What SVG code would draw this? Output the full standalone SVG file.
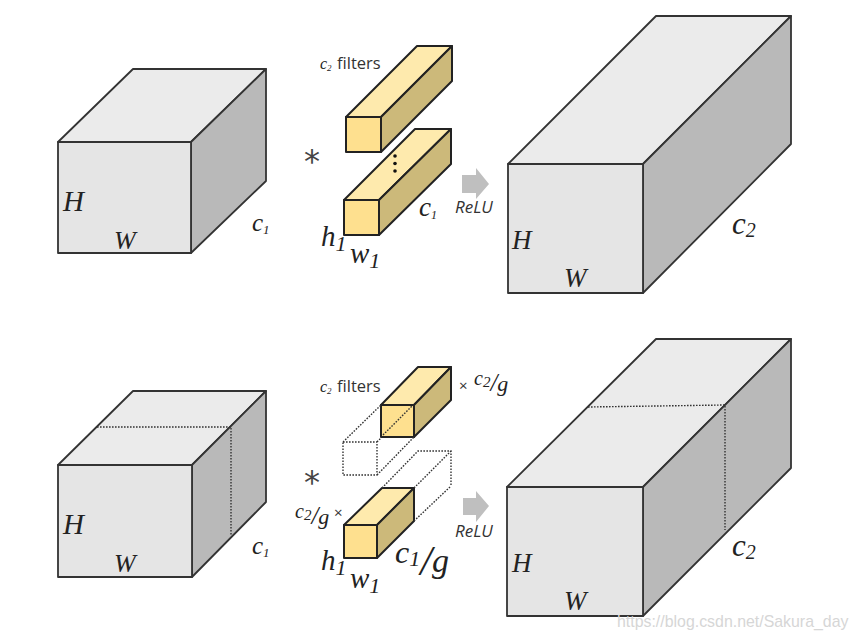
<svg xmlns="http://www.w3.org/2000/svg" width="857" height="639" viewBox="0 0 857 639">
<style>
.e{stroke:#333;stroke-width:1.8;stroke-linejoin:round}
.f{fill:#e5e5e5}.t{fill:#ebebeb}.s{fill:#b9b9b9}
.yf{fill:#fee08f}.yt{fill:#feeaad}.ys{fill:#ccb97a}
.y{stroke:#222;stroke-width:2;stroke-linejoin:round}
.d{fill:none;stroke:#333;stroke-width:1.4;stroke-dasharray:1.6 1.4}
.m{font-family:"Liberation Serif",serif;font-style:italic;fill:#222}
.n{font-family:"Open Sans","Liberation Sans",sans-serif;fill:#333}
.st{font-family:"DejaVu Sans",sans-serif;fill:#444;font-size:32px}
.a{fill:#bfbfbf}
</style>
<rect width="857" height="639" fill="#fff"/>
<g id="input-top">
<polygon class="t e" points="58,142 133,69 266,69 191,142"/>
<polygon class="s e" points="191,142 266,69 266,181 191,253"/>
<rect class="f e" x="58" y="142" width="133" height="111"/>
<text class="m" x="63" y="211" font-size="29">H</text>
<text class="m" x="114" y="249" font-size="26">W</text>
<text class="m" x="252" y="231" font-size="25">c<tspan font-size="13" dy="3">1</tspan></text>
</g>
<g id="filters-top">
<polygon class="yt y" points="346,117 417,46 452,46 381,117"/>
<polygon class="ys y" points="381,117 452,46 452,81 381,152"/>
<rect class="yf y" x="346" y="117" width="35" height="35"/>
<polygon class="yt y" points="344,200 415,129 451,129 379,200"/>
<polygon class="ys y" points="379,200 451,129 451,164 379,235"/>
<rect class="yf y" x="344" y="200" width="35" height="35"/>
<circle cx="395" cy="156" r="1.8" fill="#111"/>
<circle cx="395" cy="163.500" r="1.8" fill="#111"/>
<circle cx="395" cy="171" r="1.800" fill="#111"/>
<text class="m" x="320" y="69" font-size="16">c<tspan font-size="9" dy="2">2</tspan></text>
<text class="n" x="337" y="69" font-size="16.500">filters</text>
<text class="st" x="304" y="172">*</text>
<text class="m" x="419" y="216" font-size="27">c<tspan font-size="12" dy="3">1</tspan></text>
<text class="m" x="321" y="246" font-size="29">h<tspan font-size="22" dy="5">1</tspan></text>
<text class="m" x="350" y="263" font-size="29">w<tspan font-size="22" dy="5">1</tspan></text>
</g>
<g id="relu-top">
<polygon class="a" points="462,175 476,175 476,168 489,184 476,199 476,193 462,193"/>
<text class="n" x="455" y="213" font-size="17" font-style="italic">ReLU</text>
</g>
<g id="output-top">
<polygon class="t e" points="508,164 656,16 791,16 643,164"/>
<polygon class="s e" points="643,164 791,16 791,144 643,293"/>
<rect class="f e" x="508" y="164" width="135" height="129"/>
<text class="m" x="512" y="249" font-size="27">H</text>
<text class="m" x="564" y="287" font-size="27">W</text>
<text class="m" x="732" y="234" font-size="31">c<tspan font-size="20" dy="3">2</tspan></text>
</g>
<g id="input-bottom">
<polygon class="t e" points="58,465 133,391 266,391 192,465"/>
<polygon class="s e" points="192,465 266,391 266,502 192,577"/>
<rect class="f e" x="58" y="465" width="134" height="112"/>
<text class="m" x="63" y="534" font-size="29">H</text>
<text class="m" x="114" y="572" font-size="26">W</text>
<text class="m" x="252" y="554" font-size="25">c<tspan font-size="13" dy="3">1</tspan></text>
</g>
<g id="filters-bottom">
<polygon class="yt y" points="381,405 418,367 451,367 414,405"/>
<polygon class="ys y" points="414,405 451,367 451,400 414,437"/>
<rect class="yf y" x="381" y="405" width="33" height="32"/>
<polygon class="yt y" points="344,525 382,488 414,488 377,525"/>
<polygon class="ys y" points="377,525 414,488 414,521 377,558"/>
<rect class="yf y" x="344" y="525" width="33" height="33"/>
<text class="m" x="320" y="392" font-size="16">c<tspan font-size="9" dy="2">2</tspan></text>
<text class="n" x="337" y="392" font-size="16.500">filters</text>
<text class="n" x="459" y="391" font-size="15">×</text>
<text class="m" x="474" y="385" font-size="20">c<tspan font-size="15" dy="2">2</tspan><tspan font-size="25" dy="4">/</tspan><tspan dy="0" font-size="22">g</tspan></text>
<text class="st" x="304" y="493">*</text>
<text class="m" x="295" y="518" font-size="20">c<tspan font-size="15" dy="2">2</tspan><tspan font-size="25" dy="4">/</tspan><tspan font-size="22">g</tspan></text>
<text class="n" x="334" y="518" font-size="15">×</text>
<text class="m" x="395" y="563" font-size="32">c<tspan font-size="22" dy="3">1</tspan><tspan font-size="42" dy="9">/</tspan><tspan font-size="34" dy="-3">g</tspan></text>
<text class="m" x="321" y="570" font-size="29">h<tspan font-size="22" dy="5">1</tspan></text>
<text class="m" x="350" y="588" font-size="29">w<tspan font-size="22" dy="5">1</tspan></text>
</g>
<g id="relu-bottom">
<polygon class="a" points="463,498 476,498 476,491 489,506 476,522 476,515 463,515"/>
<text class="n" x="455" y="537" font-size="17" font-style="italic">ReLU</text>
</g>
<g id="output-bottom">
<polygon class="t e" points="507,487 656,339 791,339 643,487"/>
<polygon class="s e" points="643,487 791,339 791,468 643,616"/>
<rect class="f e" x="507" y="487" width="136" height="129"/>
<text class="m" x="512" y="572" font-size="27">H</text>
<text class="m" x="564" y="610" font-size="27">W</text>
<text class="m" x="732" y="556" font-size="31">c<tspan font-size="20" dy="3">2</tspan></text>
</g>
<g id="connectors">
<path class="d" d="M97,427H231V535"/>
<path class="d" d="M588,407L725,405V530"/>
<path class="d" d="M343,442H377V475H343ZM343,442L381,405M377,442L381,438M383,435L413,405M377,475L414,437"/>
<path class="d" d="M382,488L418,451H451V486M414,488L451,451M414,521L451,486"/>
</g>
<text x="617" y="627" font-family="Liberation Sans, sans-serif" font-size="15.900" fill="#d6d6d6">https://blog.csdn.net/Sakura_day</text>
</svg>
